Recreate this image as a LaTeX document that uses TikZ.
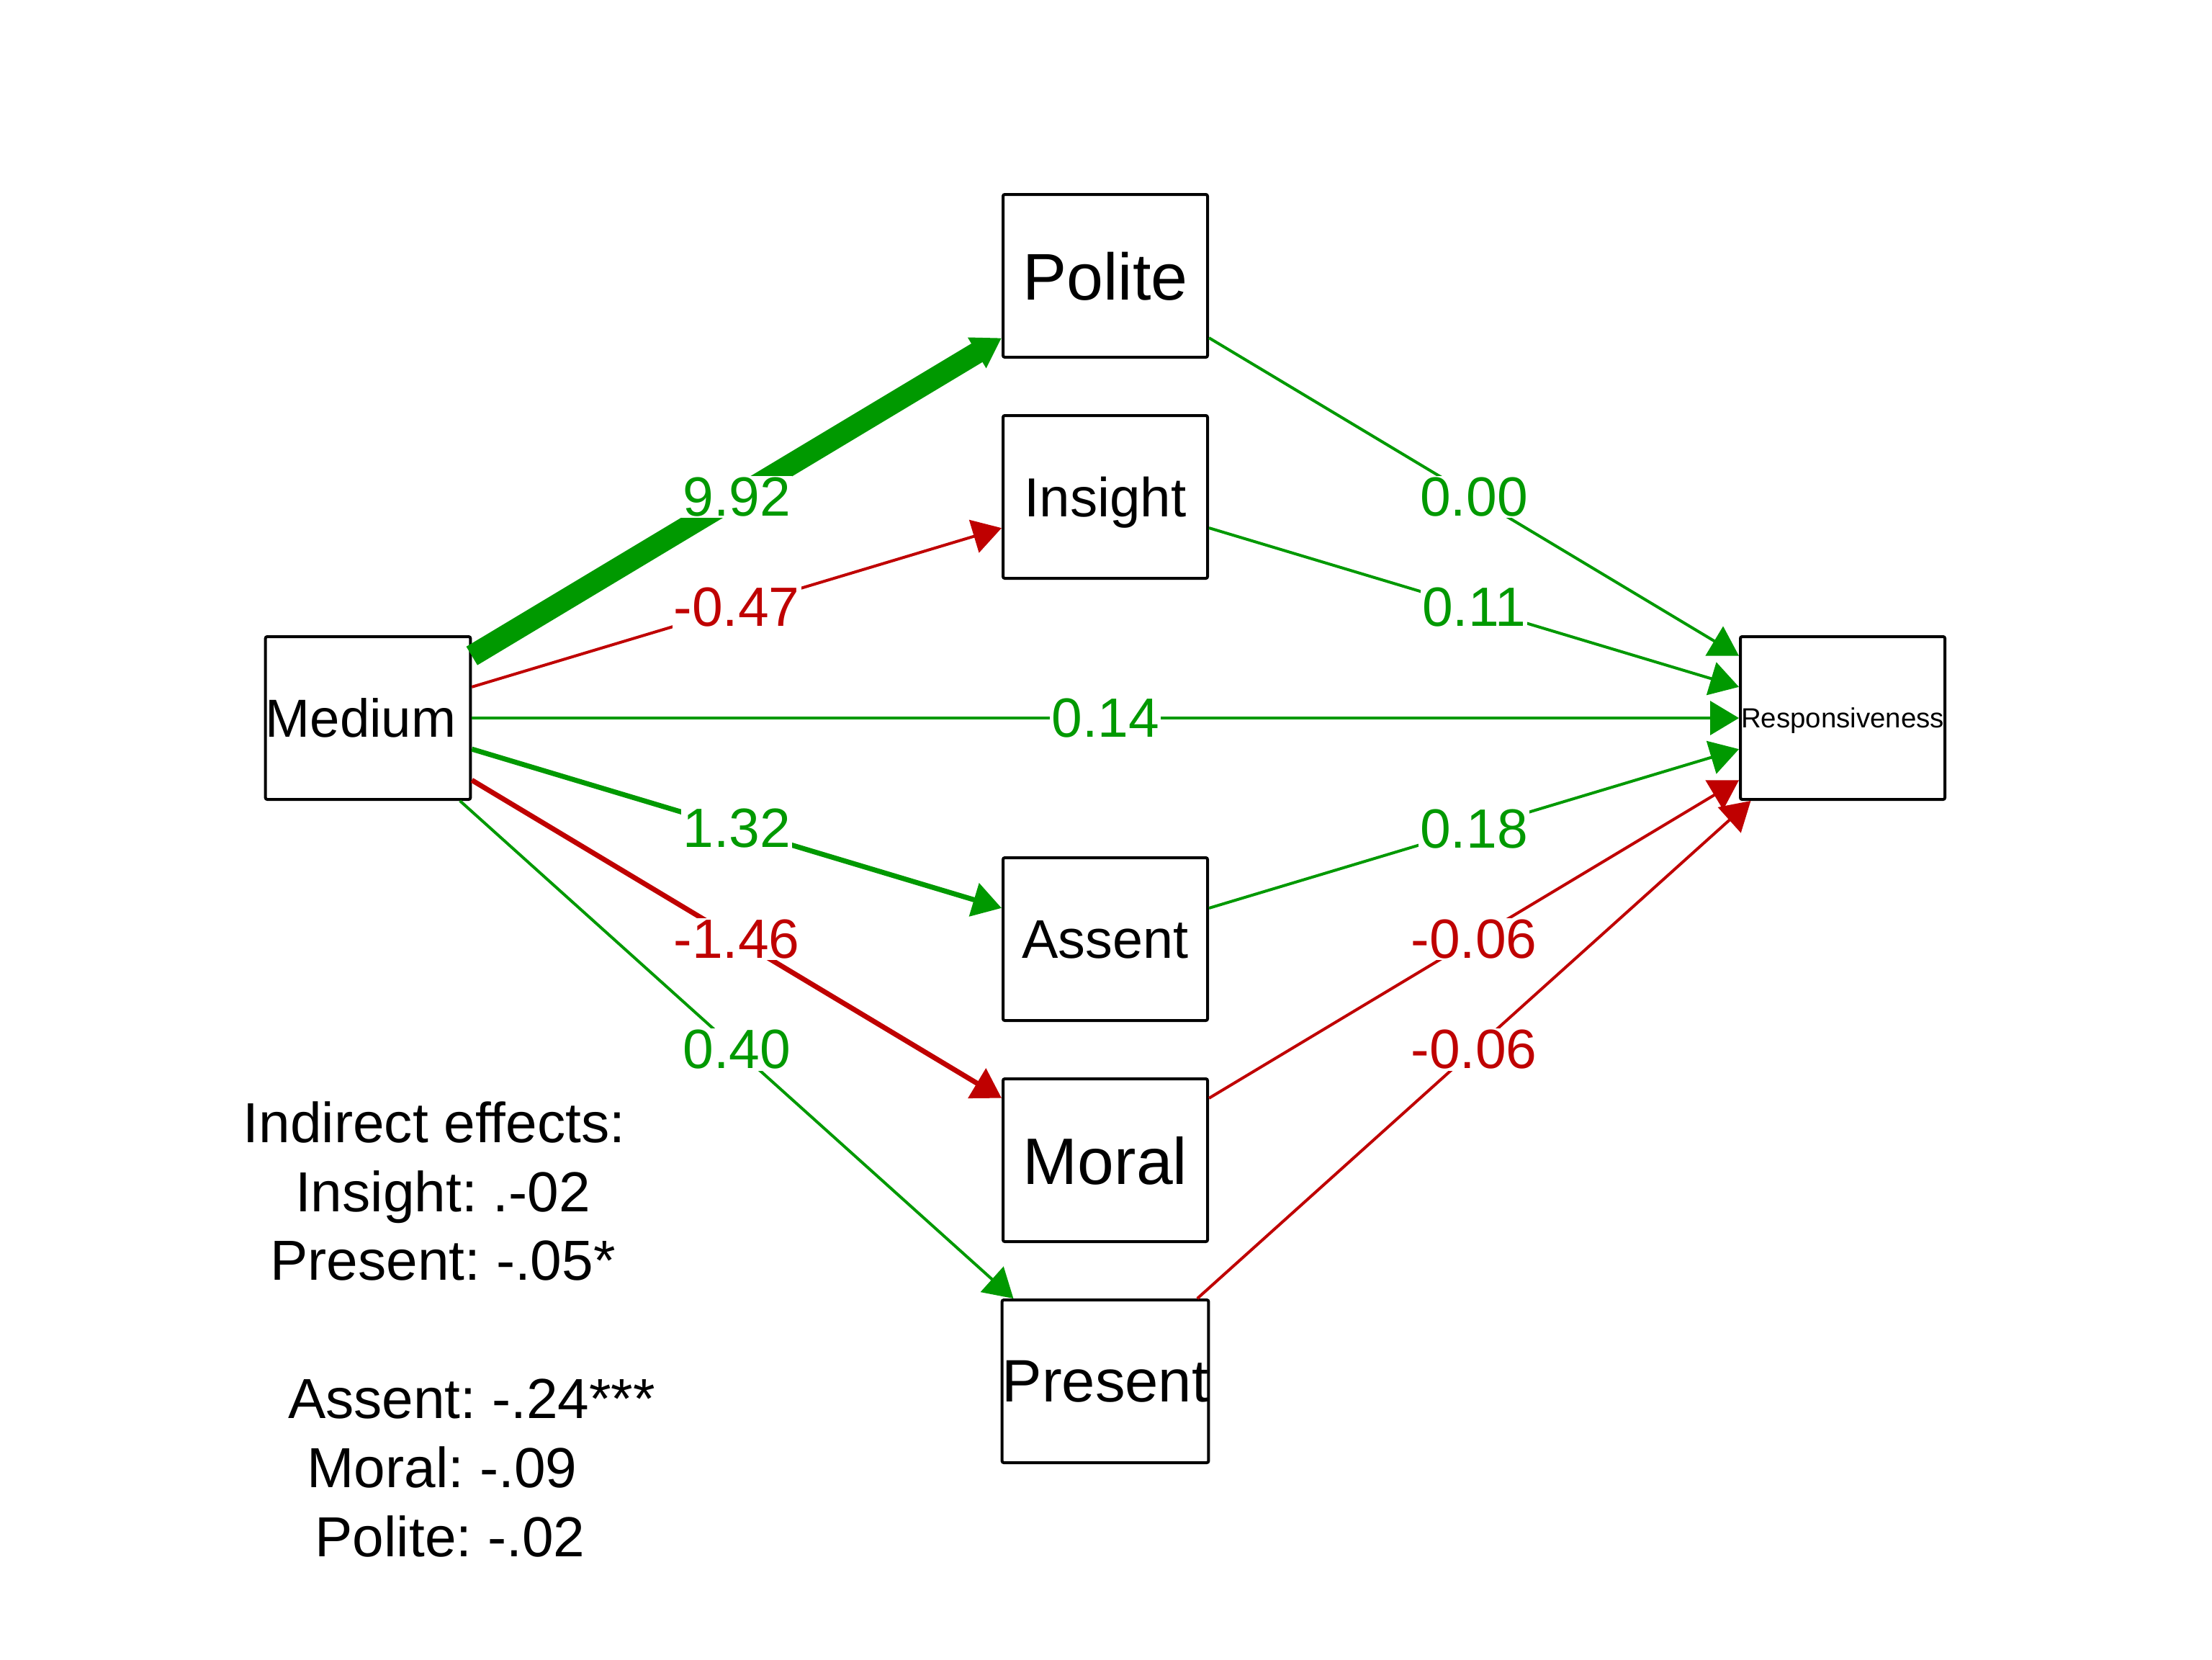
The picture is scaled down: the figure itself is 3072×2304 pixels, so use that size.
\documentclass[tikz,border=0pt]{standalone}
\usepackage{fontspec}
\setmainfont{Liberation Sans}
\usetikzlibrary{arrows.meta}
\definecolor{poscol}{HTML}{009900}
\definecolor{negcol}{HTML}{BF0000}
\frenchspacing
\begin{document}
\begin{tikzpicture}[x=0.25pt,y=-0.25pt,
  var/.style={draw=black, line width=1pt, rounded corners=0.6pt, fill=white,
    minimum width=71pt, minimum height=56.5pt, inner sep=0pt, text depth=0pt},
  edgearrow/.style={-{Triangle[length=10pt,width=11.75pt]}},
  ethin/.style={line width=1pt},
  emed/.style={line width=1.75pt},
  ethick/.style={line width=7.5pt},
  lab/.style={fill=white, inner sep=0.5pt, font=\fontsize{19.2}{23}\selectfont},
  note/.style={anchor=base, inner sep=0pt, font=\fontsize{19.6}{23}\selectfont}
]
\fill[white] (0,0) rectangle (3072,2304);
\useasboundingbox (0,0) rectangle (3072,2304);

% variables
\node[var, font=\fontsize{18.6}{22}\selectfont] (med) at (511,997) {Medium\kern5pt};
\node[var, font=\fontsize{9.6}{12}\selectfont] (res) at (2559,997) {Responsiveness};
\node[var, font=\fontsize{22.9}{27}\selectfont] (pol) at (1535,383) {Polite};
\node[var, font=\fontsize{19.1}{23}\selectfont] (ins) at (1535,690) {Insight};
\node[var, font=\fontsize{18.9}{23}\selectfont] (ass) at (1535,1304) {Assent};
\node[var, font=\fontsize{22.8}{27}\selectfont] (mor) at (1535,1611) {Moral};
\node[var, font=\fontsize{20.8}{25}\selectfont] (pre) at (1535,1918) {Present};

% a paths
\draw[edgearrow, poscol, ethick] (med) -- node[lab] (l1) {9.92} (pol);
\draw[edgearrow, negcol, ethin] (med) -- node[lab] (l2) {-0.47} (ins);
\draw[edgearrow, poscol, ethin] (med) -- node[lab] (l3) {0.14} (res);
\draw[edgearrow, poscol, emed] (med) -- node[lab] (l4) {1.32} (ass);
\draw[edgearrow, negcol, emed] (med) -- node[lab] (l5) {-1.46} (mor);
\draw[edgearrow, poscol, ethin] (med) -- node[lab] (l6) {0.40} (pre);

% b paths
\draw[edgearrow, poscol, ethin] (pol) -- node[lab] (r1) {0.00} (res);
\draw[edgearrow, poscol, ethin] (ins) -- node[lab] (r2) {0.11} (res);
\draw[edgearrow, poscol, ethin] (ass) -- node[lab] (r3) {0.18} (res);
\draw[edgearrow, negcol, ethin] (mor) -- node[lab] (r4) {-0.06} (res);
\draw[edgearrow, negcol, ethin] (pre) -- node[lab] (r5) {-0.06} (res);

% indirect effects
\node[note] (n0) at (603,1586) {Indirect effects:};
\node[note] (n1) at (615,1682) {Insight: .-02};
\node[note] (n2) at (615,1777) {Present: -.05*};
\node[note] (n3) at (655,1969) {Assent: -.24***};
\node[note] (n4) at (614,2065) {Moral: -.09};
\node[note] (n5) at (625,2161) {Polite: -.02};
\end{tikzpicture}
\end{document}
